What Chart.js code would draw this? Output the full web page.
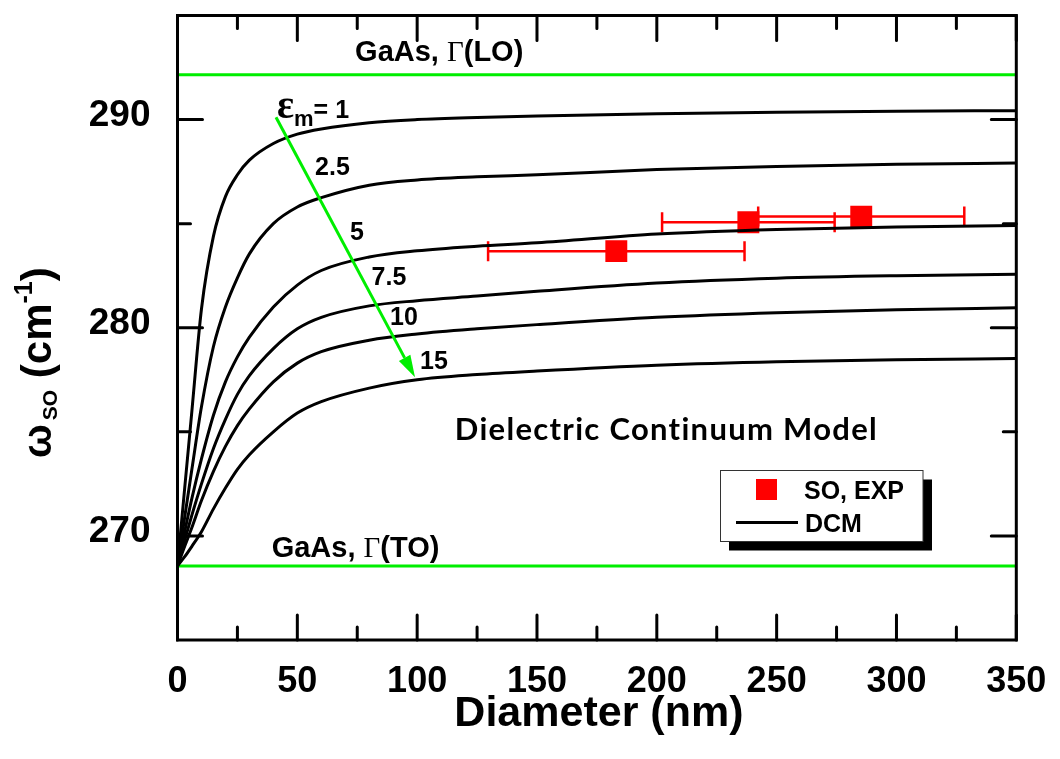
<!DOCTYPE html>
<html>
<head>
<meta charset="utf-8">
<title>SO phonon frequency vs nanowire diameter</title>
<script src="https://cdn.jsdelivr.net/npm/chart.js@4.4.1/dist/chart.umd.min.js"></script>
<style>
  html, body { margin: 0; padding: 0; background: #fff; }
  canvas { display: block; }
</style>
</head>
<body>
<canvas id="dcmChart" width="1060" height="759"></canvas>
<script>
// diameter grid (nm) shared by all model curves
const diameters = [0, 3, 6, 10, 15, 20, 25, 30, 40, 50, 60, 80, 100, 125, 150, 200, 250, 300, 350];

// dielectric continuum model, omega_SO (cm-1) for each eps_m
const dcmEps1   = [268.56, 272.3, 276.0, 280.9, 284.4, 286.3, 287.35, 288.05, 288.85, 289.3, 289.55, 289.85, 290.0, 290.1, 290.17, 290.28, 290.35, 290.4, 290.43];
const dcmEps2_5 = [268.56, 270.9, 273.2, 276.2, 279.1, 281.0, 282.4, 283.55, 285.0, 285.8, 286.25, 286.85, 287.1, 287.25, 287.35, 287.6, 287.75, 287.85, 287.91];
const dcmEps5   = [268.56, 270.2, 271.8, 273.7, 275.8, 277.4, 278.6, 279.55, 281.0, 282.05, 282.75, 283.4, 283.7, 283.92, 284.08, 284.5, 284.72, 284.84, 284.91];
const dcmEps7_5 = [268.56, 269.8, 271.0, 272.5, 274.2, 275.6, 276.8, 277.7, 279.0, 279.95, 280.5, 281.05, 281.3, 281.52, 281.75, 282.15, 282.38, 282.5, 282.57];
const dcmEps10  = [268.56, 269.5, 270.4, 271.7, 273.1, 274.3, 275.3, 276.1, 277.4, 278.3, 278.85, 279.4, 279.7, 279.95, 280.15, 280.5, 280.72, 280.86, 280.96];
const dcmEps15  = [268.56, 269.0, 269.5, 270.2, 271.3, 272.3, 273.2, 273.9, 275.0, 275.9, 276.45, 277.1, 277.5, 277.75, 277.92, 278.2, 278.37, 278.46, 278.52];
const dcmCurves = [dcmEps1, dcmEps2_5, dcmEps5, dcmEps7_5, dcmEps10, dcmEps15];
const epsLabels = ['1', '2.5', '5', '7.5', '10', '15'];

// measured SO modes with diameter spread
const expDiameter = [183.1, 238.2, 285.3];
const expOmega    = [283.68, 285.07, 285.34];
const expDiamErr  = [53.5, 36, 43];

// bulk GaAs phonons (cm-1)
const gaasLO = 292.15;
const gaasTO = 268.56;

const xTickValues = [0, 50, 100, 150, 200, 250, 300, 350];
const yTickValues = [270, 280, 290];
const xMinorTicks = [25, 75, 125, 175, 225, 275, 325];
const yMinorTicks = [275, 285];

const SANS = "'Liberation Sans', Arial, sans-serif";
const SERIF = "'Liberation Serif', 'Times New Roman', serif";
const GREEN = '#00ee00';

// text placed in data coordinates [diameter, omega]
const curveLabels = [
  { at: [57.4, 287.33], text: '2.5' },
  { at: [72.0, 284.21], text: '5' },
  { at: [81.0, 282.03], text: '7.5' },
  { at: [88.7, 280.14], text: '10' },
  { at: [101.2, 278.01], text: '15' }
];
const epsTitleAt = [41.5, 290.08];
const arrowFrom = [41.1, 290.11];
const arrowTo = [99.1, 277.62];
const loLabelAt = [74.1, 292.82];
const toLabelAt = [39.3, 268.97];
const modelLabelAt = [204.0, 274.61];

const datasets = dcmCurves.map((vals, i) => ({
  label: 'eps ' + epsLabels[i],
  data: diameters.map((d, j) => ({ x: d, y: vals[j] })),
  borderColor: '#000',
  borderWidth: 3,
  pointRadius: 0,
  cubicInterpolationMode: 'monotone',
  fill: false
}));

datasets.push({
  label: 'GaAs LO',
  data: [{ x: 0, y: gaasLO }, { x: 350, y: gaasLO }],
  borderColor: GREEN, borderWidth: 3, pointRadius: 0
});
datasets.push({
  label: 'GaAs TO',
  data: [{ x: 0, y: gaasTO }, { x: 350, y: gaasTO }],
  borderColor: GREEN, borderWidth: 3, pointRadius: 0
});
datasets.push({
  label: 'SO, EXP',
  data: expDiameter.map((d, i) => ({ x: d, y: expOmega[i] })),
  showLine: false,
  pointStyle: 'rect',
  pointRadius: 15.5,
  pointBackgroundColor: '#ff0000',
  pointBorderWidth: 0,
  borderColor: '#ff0000'
});
const expIndex = datasets.length - 1;

// horizontal error bars, drawn just before the squares
const errorBars = {
  id: 'errorBars',
  beforeDatasetDraw(chart, args) {
    if (args.index !== expIndex) return;
    const { ctx, scales: { x, y } } = chart;
    ctx.save();
    ctx.strokeStyle = '#ff0000';
    ctx.lineWidth = 2.5;
    expDiameter.forEach((d, i) => {
      const py = y.getPixelForValue(expOmega[i]);
      const x0 = x.getPixelForValue(d - expDiamErr[i]);
      const x1 = x.getPixelForValue(d + expDiamErr[i]);
      ctx.beginPath();
      ctx.moveTo(x0, py); ctx.lineTo(x1, py);
      ctx.moveTo(x0, py - 10); ctx.lineTo(x0, py + 10);
      ctx.moveTo(x1, py - 10); ctx.lineTo(x1, py + 10);
      ctx.stroke();
    });
    ctx.restore();
  }
};

// frame, inward ticks on all sides, annotations, legend and axis titles
const decorations = {
  id: 'decorations',
  afterDraw(chart) {
    const { ctx, chartArea: a, scales: { x, y } } = chart;
    const px = v => x.getPixelForValue(v[0]);
    const py = v => y.getPixelForValue(v[1]);
    ctx.save();

    // ticks
    ctx.strokeStyle = '#000';
    ctx.lineWidth = 3;
    ctx.lineCap = 'round';
    const xt = (v, len) => {
      const p = x.getPixelForValue(v);
      ctx.beginPath();
      ctx.moveTo(p, a.bottom); ctx.lineTo(p, a.bottom - len);
      ctx.moveTo(p, a.top); ctx.lineTo(p, a.top + len);
      ctx.stroke();
    };
    const yt = (v, len) => {
      const p = y.getPixelForValue(v);
      ctx.beginPath();
      ctx.moveTo(a.left, p); ctx.lineTo(a.left + len, p);
      ctx.moveTo(a.right, p); ctx.lineTo(a.right - len, p);
      ctx.stroke();
    };
    xTickValues.forEach(v => xt(v, 25));
    xMinorTicks.forEach(v => xt(v, 13));
    yTickValues.forEach(v => yt(v, 25));
    yMinorTicks.forEach(v => yt(v, 13));

    ctx.lineCap = 'butt';
    ctx.strokeRect(a.left, a.top, a.right - a.left, a.bottom - a.top);

    // eps_m arrow
    const x0 = px(arrowFrom), y0 = py(arrowFrom);
    const x1 = px(arrowTo), y1 = py(arrowTo);
    const ang = Math.atan2(y1 - y0, x1 - x0);
    const headLen = 22, headHalf = 6.5;
    const bx = x1 - headLen * Math.cos(ang), by = y1 - headLen * Math.sin(ang);
    ctx.strokeStyle = GREEN;
    ctx.fillStyle = GREEN;
    ctx.lineWidth = 3;
    ctx.beginPath();
    ctx.moveTo(x0, y0); ctx.lineTo(bx, by);
    ctx.stroke();
    ctx.beginPath();
    ctx.moveTo(x1, y1);
    ctx.lineTo(bx + headHalf * Math.sin(ang), by - headHalf * Math.cos(ang));
    ctx.lineTo(bx - headHalf * Math.sin(ang), by + headHalf * Math.cos(ang));
    ctx.closePath();
    ctx.fill();

    // curve labels
    ctx.fillStyle = '#000';
    ctx.textAlign = 'left';
    ctx.textBaseline = 'alphabetic';
    ctx.font = 'bold 25px ' + SANS;
    curveLabels.forEach(l => ctx.fillText(l.text, px(l.at), py(l.at)));

    let tx = px(epsTitleAt), ty = py(epsTitleAt);
    ctx.font = 'bold 40px ' + SERIF;
    ctx.fillText('\u03B5', tx, ty);
    tx += ctx.measureText('\u03B5').width;
    ctx.font = 'bold 22px ' + SANS;
    ctx.fillText('m', tx, ty + 8);
    tx += ctx.measureText('m').width;
    ctx.font = 'bold 25px ' + SANS;
    ctx.fillText('= ' + epsLabels[0], tx, ty);

    // GaAs phonon labels
    const gaasLabel = (pos, mode) => {
      let lx = px(pos);
      const ly = py(pos);
      ctx.font = 'bold 29px ' + SANS;
      ctx.fillText('GaAs, ', lx, ly);
      lx += ctx.measureText('GaAs, ').width;
      ctx.font = '29px ' + SERIF;
      ctx.fillText('\u0393', lx, ly);
      lx += ctx.measureText('\u0393').width;
      ctx.font = 'bold 29px ' + SANS;
      ctx.fillText('(' + mode + ')', lx, ly);
    };
    gaasLabel(loLabelAt, 'LO');
    gaasLabel(toLabelAt, 'TO');

    ctx.save();
    ctx.font = 'bold 31px Lato, ' + SANS;
    ctx.letterSpacing = '1.3px';
    ctx.textAlign = 'center';
    ctx.fillText('Dielectric Continuum Model', px(modelLabelAt), py(modelLabelAt));
    ctx.restore();

    // legend box with drop shadow
    ctx.textAlign = 'left';
    ctx.fillStyle = '#000';
    ctx.fillRect(729, 479.5, 203, 71);
    ctx.fillStyle = '#fff';
    ctx.fillRect(720.5, 470.5, 202.5, 71);
    ctx.strokeStyle = '#333';
    ctx.lineWidth = 1;
    ctx.strokeRect(720.5, 470.5, 202.5, 71);
    ctx.fillStyle = '#ff0000';
    ctx.fillRect(756, 479, 21, 21);
    ctx.strokeStyle = '#000';
    ctx.lineWidth = 3;
    ctx.beginPath();
    ctx.moveTo(736, 522.5); ctx.lineTo(798, 522.5);
    ctx.stroke();
    ctx.fillStyle = '#000';
    ctx.font = 'bold 25px ' + SANS;
    ctx.fillText('SO, EXP', 804, 498.5);
    ctx.fillText('DCM', 805, 531.5);

    // x axis title
    ctx.textAlign = 'center';
    ctx.font = 'bold 43px ' + SANS;
    ctx.fillText('Diameter (nm)', (a.left + a.right) / 2 + 2, 726);

    // y axis title, rotated, with sub/superscripts
    ctx.save();
    ctx.translate(51, 458);
    ctx.rotate(-Math.PI / 2);
    ctx.textAlign = 'left';
    let rx = 0;
    ctx.font = 'bold 40px ' + SANS;
    ctx.fillText('\u03C9', rx, 0);
    rx += ctx.measureText('\u03C9').width + 4;
    ctx.font = 'bold 21px ' + SANS;
    ctx.fillText('SO', rx, 6);
    rx += ctx.measureText('SO').width;
    ctx.font = 'bold 42px ' + SANS;
    ctx.fillText(' (cm', rx, 0);
    rx += ctx.measureText(' (cm').width;
    ctx.font = 'bold 25px ' + SANS;
    ctx.fillText('-1', rx, -19);
    rx += ctx.measureText('-1').width;
    ctx.font = 'bold 42px ' + SANS;
    ctx.fillText(')', rx, 0);
    ctx.restore();

    ctx.restore();
  }
};

new Chart(document.getElementById('dcmChart'), {
  type: 'line',
  data: { datasets: datasets },
  options: {
    responsive: false,
    animation: false,
    devicePixelRatio: 1,
    layout: { padding: { top: 6, right: 43.7, bottom: 0, left: 0 } },
    plugins: {
      legend: { display: false },
      tooltip: { enabled: false }
    },
    scales: {
      x: {
        type: 'linear',
        min: 0,
        max: 350,
        grid: { display: false, drawTicks: false },
        border: { display: false },
        afterBuildTicks: s => { s.ticks = xTickValues.map(v => ({ value: v })); },
        afterFit: s => {
          s.height = 119;
          s.paddingLeft = 0;
          s.paddingRight = 0;
        },
        ticks: {
          color: '#000',
          padding: 20,
          maxRotation: 0,
          font: { family: SANS, size: 36, weight: 'bold' }
        }
      },
      y: {
        type: 'linear',
        min: 265,
        max: 295,
        grid: { display: false, drawTicks: false },
        border: { display: false },
        afterBuildTicks: s => { s.ticks = yTickValues.map(v => ({ value: v })); },
        afterFit: s => {
          s.width = 177.5;
          s.paddingTop = 0;
          s.paddingBottom = 0;
        },
        ticks: {
          color: '#000',
          padding: 27,
          labelOffset: -4,
          font: { family: SANS, size: 37, weight: 'bold' }
        }
      }
    }
  },
  plugins: [errorBars, decorations]
});
</script>
</body>
</html>
